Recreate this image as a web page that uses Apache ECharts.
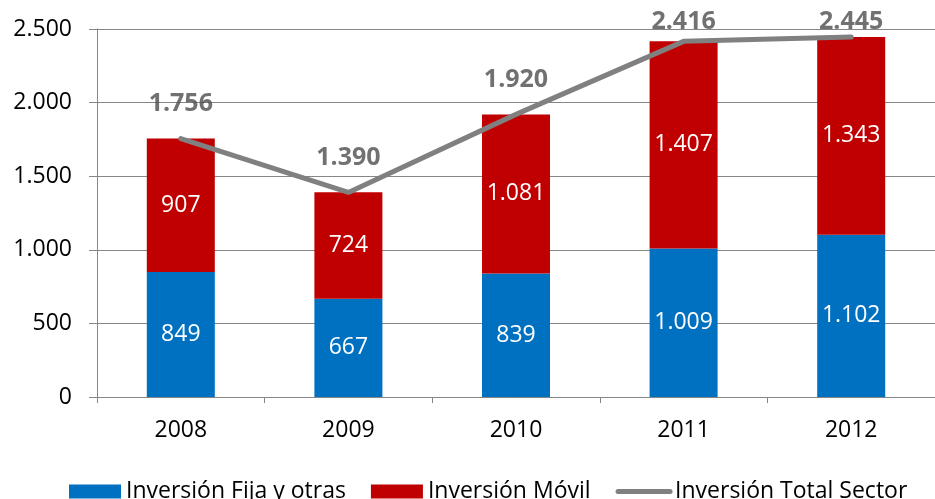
<!DOCTYPE html>
<html>
<head>
<meta charset="utf-8">
<script src="https://cdn.jsdelivr.net/npm/echarts@6/dist/echarts.min.js"></script>
<style>
  html, body { margin: 0; padding: 0; background: #fff; }
  #chart { width: 935px; height: 499px; }
</style>
</head>
<body>
<div id="chart"></div>
<script>
const years = ['2008', '2009', '2010', '2011', '2012']
const fija = [849, 667, 839, 1009, 1102]
const movil = [907, 724, 1081, 1407, 1343]
const total = [1756, 1390, 1920, 2416, 2445]

const FONT = "'Open Sans', 'Noto Sans', sans-serif"
const fmt = (v) => String(v).replace(/\B(?=(\d{3})+(?!\d))/g, '.')

const chart = echarts.init(document.getElementById('chart'), null, { renderer: 'canvas' })

const barLabel = { show: true, position: 'inside', color: '#fff', fontSize: 23, formatter: (p) => fmt(p.value) }

chart.setOption({
  animation: false,
  backgroundColor: '#fff',
  textStyle: { fontFamily: FONT },
  grid: { left: 97, top: 29, width: 850, height: 368, containLabel: false },
  legend: {
    top: 475,
    left: 64,
    itemWidth: 52,
    itemHeight: 14,
    itemGap: 25,
    textStyle: { color: '#000', fontSize: 23, fontFamily: FONT },
    data: [
      { name: 'Inversión Fija y otras', icon: 'rect' },
      { name: 'Inversión Móvil', icon: 'rect' },
      { name: 'Inversión Total Sector', itemStyle: { opacity: 0 }, lineStyle: { width: 5, cap: 'round' } },
    ],
  },
  xAxis: {
    type: 'category',
    data: years,
    axisLine: { lineStyle: { color: '#868686', width: 1 } },
    axisTick: { show: true, length: 6, lineStyle: { color: '#868686' } },
    axisLabel: { color: '#000', fontSize: 23, margin: 22 },
  },
  yAxis: {
    type: 'value',
    min: 0,
    max: 2500,
    interval: 500,
    axisLine: { show: true, lineStyle: { color: '#868686' } },
    axisTick: { show: true, length: 8, lineStyle: { color: '#868686' } },
    axisLabel: { color: '#000', fontSize: 23, margin: 25, formatter: fmt },
    splitLine: { lineStyle: { color: '#868686', width: 1 } },
  },
  series: [
    {
      name: 'Inversión Fija y otras',
      type: 'bar',
      stack: 'inv',
      barWidth: 68,
      data: fija,
      itemStyle: { color: '#0070C0' },
      label: barLabel,
    },
    {
      name: 'Inversión Móvil',
      type: 'bar',
      stack: 'inv',
      data: movil,
      itemStyle: { color: '#C00000' },
      label: barLabel,
    },
    {
      name: 'Inversión Total Sector',
      type: 'line',
      data: total,
      symbol: 'none',
      lineStyle: { color: '#808080', width: 5, cap: 'round' },
      itemStyle: { color: '#808080' },
      z: 5,
    },
    {
      // value labels for the total line
      name: 'total-labels',
      type: 'scatter',
      data: total,
      symbolSize: 1,
      itemStyle: { color: 'rgba(0,0,0,0)' },
      label: {
        show: true,
        position: 'top',
        distance: 22,
        color: '#4d4d4d',
        fontSize: 25,
        fontWeight: 'bold',
        formatter: (p) => fmt(p.value),
      },
      labelLayout: (params) => {
        const r = params.labelRect
        if (r.y < 9) return { dy: 9 - r.y }
        return {}
      },
      z: 6,
    },
  ],
})
</script>
</body>
</html>
